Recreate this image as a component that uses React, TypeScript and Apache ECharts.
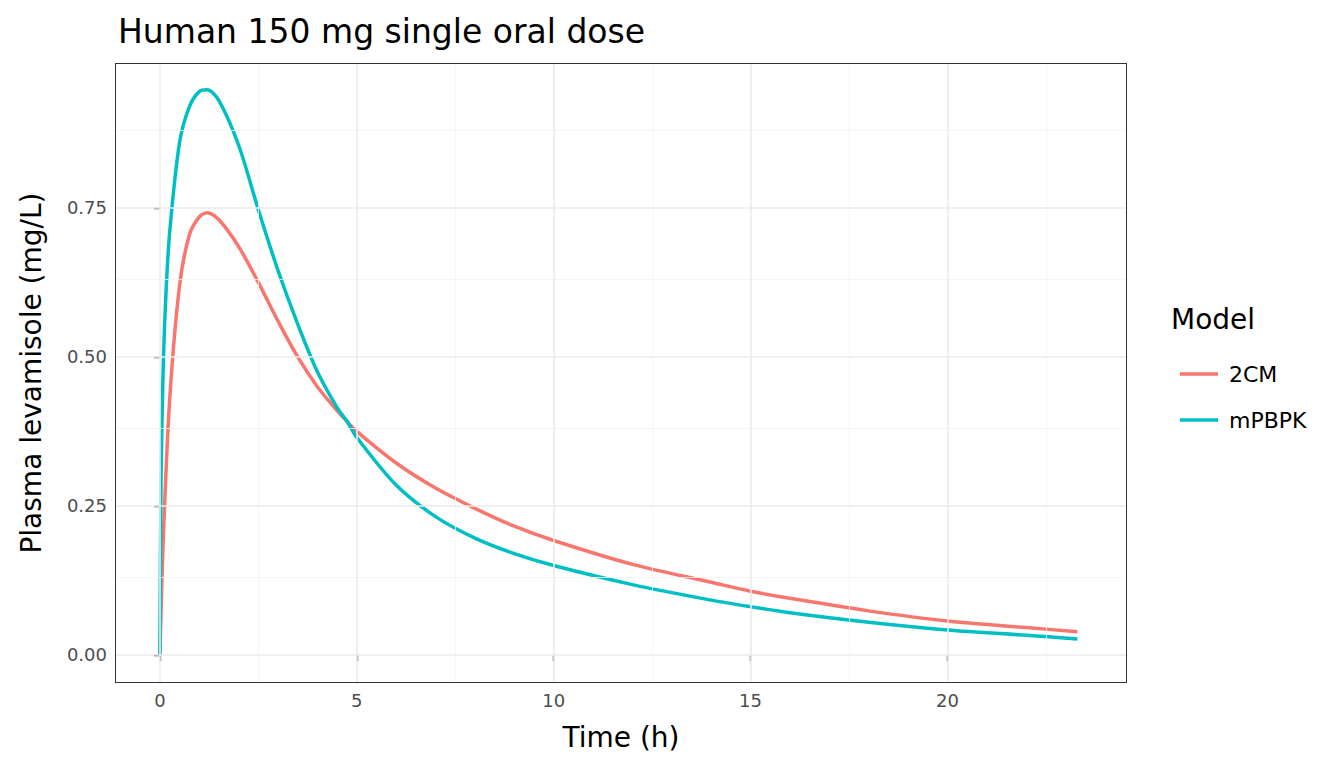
import React, { useEffect, useRef } from 'react';
import * as echarts from 'echarts';

const timeTwoCM = [0, 0.05, 0.1, 0.25, 0.5, 0.75, 1.0, 1.2, 1.5, 2, 2.5, 3, 3.5, 4, 4.5, 4.75, 5, 6, 7, 8, 9, 10, 12, 14, 15, 16, 18, 20, 22, 23.3];
const concTwoCM = [0, 0.12, 0.22, 0.43, 0.62, 0.705, 0.735, 0.742, 0.73, 0.685, 0.625, 0.56, 0.5, 0.45, 0.41, 0.392, 0.375, 0.322, 0.28, 0.246, 0.216, 0.192, 0.152, 0.122, 0.107, 0.095, 0.074, 0.057, 0.046, 0.039];
const timeMPBPK = [0, 0.03, 0.08, 0.15, 0.25, 0.5, 0.75, 1.0, 1.2, 1.5, 2, 2.5, 3, 3.5, 4, 4.5, 4.75, 5, 6, 7, 8, 9, 10, 12, 14, 15, 16, 18, 20, 22, 23.3];
const concMPBPK = [0, 0.3, 0.47, 0.6, 0.71, 0.86, 0.92, 0.945, 0.948, 0.93, 0.855, 0.747, 0.645, 0.555, 0.475, 0.415, 0.392, 0.365, 0.285, 0.232, 0.196, 0.17, 0.15, 0.118, 0.092, 0.081, 0.071, 0.055, 0.042, 0.033, 0.027];

const xMajor = [0, 5, 10, 15, 20];
const xMinor = [2.5, 7.5, 12.5, 17.5, 22.5];
const yMajor = [0, 0.25, 0.5, 0.75];
const yMinor = [0.125, 0.375, 0.625, 0.875];

const App: React.FC = () => {
  const ref = useRef<HTMLDivElement>(null);

  useEffect(() => {
    if (!ref.current) return;
    const chart = echarts.init(ref.current, undefined, { renderer: 'svg' });
    const font = 'DejaVu Sans';
    const gridLines = [
      ...xMinor.map((v) => ({ xAxis: v, lineStyle: { color: '#f2f2f2', width: 0.8, type: 'solid' } })),
      ...yMinor.map((v) => ({ yAxis: v, lineStyle: { color: '#f2f2f2', width: 0.8, type: 'solid' } })),
      ...xMajor.map((v) => ({ xAxis: v, lineStyle: { color: '#ebebeb', width: 1.6, type: 'solid' } })),
      ...yMajor.map((v) => ({ yAxis: v, lineStyle: { color: '#ebebeb', width: 1.6, type: 'solid' } })),
    ];
    chart.setOption({
      animation: false,
      textStyle: { fontFamily: font },
      title: {
        text: 'Human 150 mg single oral dose',
        left: 113,
        top: 10,
        textStyle: { fontFamily: font, fontSize: 33, fontWeight: 'normal', color: '#000' },
      },
      grid: { left: 115, right: 217, top: 63, bottom: 85 },
      graphic: [
        { type: 'text', left: 1171, top: 305, style: { text: 'Model', font: `28px "${font}"`, fill: '#000' } },
      ],
      legend: {
        orient: 'vertical',
        left: 1175,
        top: 358,
        itemWidth: 38,
        itemHeight: 24,
        itemGap: 24,
        icon: 'path://M0,10.2 L38,10.2 L38,13.8 L0,13.8 Z',
        textStyle: { fontFamily: font, fontSize: 22, color: '#000', padding: [0, 0, 0, 6] },
        data: ['2CM', 'mPBPK'],
      },
      xAxis: {
        type: 'value',
        min: -1.14,
        max: 24.56,
        name: 'Time (h)',
        nameLocation: 'middle',
        nameGap: 40,
        nameTextStyle: { fontSize: 28, color: '#000', fontFamily: font },
        axisLine: { show: false },
        splitLine: { show: false },
        axisTick: { show: true, customValues: xMajor, length: 6, lineStyle: { color: '#333', width: 1.4 } },
        axisLabel: { customValues: xMajor, fontSize: 18, color: '#4d4d4d', margin: 8, fontFamily: font },
      },
      yAxis: {
        type: 'value',
        min: -0.047,
        max: 0.993,
        name: 'Plasma levamisole (mg/L)',
        nameLocation: 'middle',
        nameGap: 70,
        nameTextStyle: { fontSize: 28, color: '#000', fontFamily: font },
        axisLine: { show: false },
        splitLine: { show: false },
        axisTick: { show: true, customValues: yMajor, length: 6, lineStyle: { color: '#333', width: 1.4 } },
        axisLabel: {
          customValues: yMajor,
          fontSize: 18,
          color: '#4d4d4d',
          margin: 8,
          fontFamily: font,
          formatter: (v: number) => v.toFixed(2),
        },
      },
      series: [
        {
          name: 'grid',
          type: 'line',
          data: [],
          silent: true,
          z: 0,
          markLine: { silent: true, symbol: 'none', label: { show: false }, animation: false, data: gridLines },
        },
        {
          name: '2CM',
          type: 'line',
          smooth: 0.3,
          symbol: 'none',
          color: '#f8766d',
          lineStyle: { width: 3.5, color: '#f8766d' },
          data: timeTwoCM.map((t, i) => [t, concTwoCM[i]]),
          z: 3,
        },
        {
          name: 'mPBPK',
          type: 'line',
          smooth: 0.3,
          symbol: 'none',
          color: '#00bfc4',
          lineStyle: { width: 3.5, color: '#00bfc4' },
          data: timeMPBPK.map((t, i) => [t, concMPBPK[i]]),
          z: 4,
        },
      ],
    });
    return () => chart.dispose();
  }, []);

  return (
    <div style={{ position: 'relative', width: 1344, height: 768, margin: -8, background: '#fff' }}>
      <div ref={ref} style={{ width: 1344, height: 768 }} />
      <div
        style={{
          position: 'absolute',
          left: 115,
          top: 63,
          width: 1012,
          height: 620,
          border: '1px solid #333',
          boxSizing: 'border-box',
          pointerEvents: 'none',
        }}
      />
    </div>
  );
};

export default App;
